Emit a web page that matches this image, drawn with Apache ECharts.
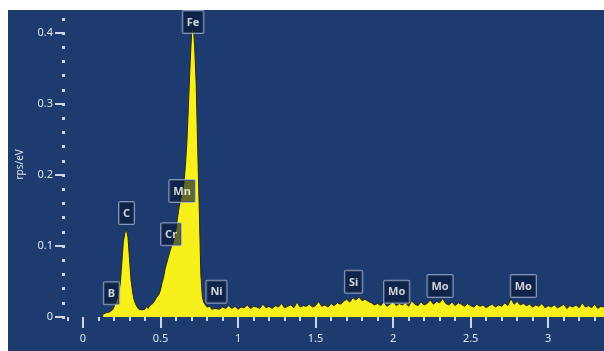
<!DOCTYPE html>
<html>
<head>
<meta charset="utf-8">
<script src="https://cdn.jsdelivr.net/npm/echarts@6/dist/echarts.min.js"></script>
<style>
  html, body { margin: 0; padding: 0; background: #ffffff; }
  #chart { width: 604px; height: 351px; }
</style>
</head>
<body>
<div id="chart"></div>
<script>
// EDS spectrum: counts per eV against energy (keV)

// Low-energy part, sampled every 0.01 keV from 0.13 keV
const lowStart = 0.13;
const lowStep = 0.01;
const lowCounts = [
  0.004, 0.005, 0.006, 0.006, 0.007, 0.008, 0.010, 0.014, 0.020, 0.026,
  0.034, 0.046, 0.075, 0.105, 0.118, 0.124, 0.112, 0.082, 0.052, 0.035,
  0.024, 0.018, 0.014, 0.011, 0.013, 0.010, 0.012, 0.011, 0.015, 0.012,
  0.016, 0.014, 0.019, 0.022, 0.026, 0.028, 0.032, 0.038, 0.048, 0.056,
  0.068, 0.076, 0.084, 0.092, 0.099, 0.104, 0.112, 0.124, 0.140, 0.155,
  0.166, 0.176, 0.186, 0.212, 0.246, 0.298, 0.352, 0.398, 0.414, 0.382,
  0.328, 0.236, 0.150, 0.060, 0.028, 0.020, 0.017, 0.014, 0.012, 0.015,
  0.011, 0.013, 0.012
];

// Background part, sampled every 0.02 keV from 0.86 keV
const highStart = 0.86;
const highStep = 0.02;
const highCounts = [
  0.013, 0.011, 0.014, 0.012, 0.016, 0.012, 0.015, 0.011, 0.014, 0.013,
  0.017, 0.012, 0.015, 0.014, 0.012, 0.018, 0.013, 0.015, 0.012, 0.016,
  0.014, 0.019, 0.013, 0.015, 0.017, 0.013, 0.021, 0.014, 0.016, 0.015,
  0.018, 0.014, 0.016, 0.022, 0.015, 0.017, 0.014, 0.019, 0.016, 0.020,
  0.018, 0.022, 0.025, 0.021, 0.027, 0.024, 0.028, 0.023, 0.025, 0.022,
  0.020, 0.017, 0.019, 0.016, 0.021, 0.015, 0.018, 0.022, 0.016, 0.019,
  0.017, 0.020, 0.015, 0.023, 0.018, 0.016, 0.021, 0.017, 0.019, 0.024,
  0.018, 0.022, 0.020, 0.026, 0.019, 0.017, 0.021, 0.016, 0.020, 0.018,
  0.015, 0.019, 0.016, 0.014, 0.018, 0.015, 0.017, 0.013, 0.016, 0.018,
  0.014, 0.017, 0.015, 0.020, 0.016, 0.026, 0.018, 0.022, 0.017, 0.019,
  0.016, 0.018, 0.014, 0.017, 0.015, 0.019, 0.013, 0.016, 0.014, 0.017,
  0.013, 0.015, 0.018, 0.012, 0.016, 0.014, 0.017, 0.013, 0.020, 0.014,
  0.016, 0.013, 0.018, 0.012, 0.015, 0.014
];

// Element line markers: name, energy (keV), height of the box's lower edge (rps/eV)
const lineNames    = ['B', 'C', 'Cr', 'Mn', 'Fe', 'Ni', 'Si', 'Mo', 'Mo', 'Mo'];
const lineEnergies = [0.184, 0.281, 0.568, 0.639, 0.71, 0.861, 1.745, 2.023, 2.303, 2.84];
const lineHeights  = [0.018, 0.131, 0.101, 0.162, 0.400, 0.020, 0.034, 0.020, 0.028, 0.028];

// Axis ticks: labelled major ticks, plus minor ticks every 0.1 keV / 0.02 rps/eV
const xMajorTicks = [0, 0.5, 1, 1.5, 2, 2.5, 3];
const yMajorTicks = [0, 0.1, 0.2, 0.3, 0.4];
const xMinorStep = 0.1, xMinorFrom = -0.1, xMinorTo = 3.3;
const yMinorStep = 0.02, yMinorFrom = 0, yMinorTo = 0.42;

const X_MIN = -0.116, X_MAX = 3.36;
const Y_MIN = 0, Y_MAX = 0.43;

function steps(from, to, step) {
  const out = [];
  const n = Math.round((to - from) / step);
  for (let i = 0; i <= n; i++) out.push(+(from + i * step).toFixed(4));
  return out;
}
function toPairs(start, step, counts) {
  return counts.map((c, i) => [+(start + i * step).toFixed(3), c]);
}
const spectrum = toPairs(lowStart, lowStep, lowCounts).concat(toPairs(highStart, highStep, highCounts));
const markers = lineNames.map((n, i) => ({ name: n, value: [lineEnergies[i], lineHeights[i]] }));
const xMinorTicks = steps(xMinorFrom, xMinorTo, xMinorStep);
const yMinorTicks = steps(yMinorFrom, yMinorTo, yMinorStep);

const FONT = 'Noto Sans';
const TICK = '#cdd5e4';
const TEXT = '#dfe4ee';
const fmt = v => String(+(+v).toFixed(2));
const noLine = { show: false, onZero: false };

const chart = echarts.init(document.getElementById('chart'), null, { renderer: 'canvas' });
chart.setOption({
  backgroundColor: '#ffffff',
  animation: false,
  graphic: [{
    type: 'rect', z: -10, silent: true,
    shape: { x: 8, y: 10, width: 596, height: 341 },
    style: { fill: '#1d3b6f' }
  }],
  grid: { left: 65, right: 0, top: 11.7, bottom: 34, containLabel: false },
  xAxis: [
    {
      type: 'value', position: 'bottom', min: X_MIN, max: X_MAX,
      axisLine: noLine,
      axisTick: { show: true, length: 4, customValues: xMinorTicks, lineStyle: { color: TICK, width: 2 } },
      axisLabel: { show: false },
      splitLine: { show: false }
    },
    {
      type: 'value', position: 'bottom', offset: 0, min: X_MIN, max: X_MAX,
      axisLine: noLine,
      axisTick: { show: true, length: 11, customValues: xMajorTicks, lineStyle: { color: TICK, width: 2 } },
      axisLabel: {
        show: true, customValues: xMajorTicks, margin: 16,
        color: TEXT, fontSize: 11, fontFamily: FONT, formatter: fmt
      },
      splitLine: { show: false }
    }
  ],
  yAxis: [
    {
      type: 'value', position: 'left', offset: 0, min: Y_MIN, max: Y_MAX,
      axisLine: noLine,
      axisTick: { show: true, length: 3, customValues: yMinorTicks, lineStyle: { color: TICK, width: 3 } },
      axisLabel: { show: false },
      splitLine: { show: false },
      name: 'rps/eV', nameLocation: 'middle', nameGap: 40, nameRotate: 90,
      nameTextStyle: { color: TEXT, fontSize: 10, fontFamily: FONT }
    },
    {
      type: 'value', position: 'left', offset: 0, min: Y_MIN, max: Y_MAX,
      axisLine: noLine,
      axisTick: { show: true, length: 10, customValues: yMajorTicks, lineStyle: { color: TICK, width: 2 } },
      axisLabel: {
        show: true, customValues: yMajorTicks, margin: 12,
        color: TEXT, fontSize: 11, fontFamily: FONT, formatter: fmt
      },
      splitLine: { show: false }
    }
  ],
  series: [
    {
      type: 'line', xAxisIndex: 0, yAxisIndex: 0,
      data: spectrum, symbol: 'none', smooth: false,
      lineStyle: { color: '#2a2a12', width: 1 },
      areaStyle: { color: '#f7f01a', opacity: 1 },
      z: 2
    },
    {
      type: 'scatter', xAxisIndex: 0, yAxisIndex: 0,
      data: markers, symbolSize: 0, z: 5,
      label: {
        show: true, position: 'top', distance: 0,
        formatter: p => p.name,
        color: '#ffffff', fontSize: 11, fontWeight: 'bold', fontFamily: FONT,
        lineHeight: 13,
        backgroundColor: 'rgba(8,22,52,0.78)',
        borderColor: '#9fb0cf', borderWidth: 1, borderRadius: 1,
        padding: [5, 4, 4, 4]
      }
    }
  ]
});
</script>
</body>
</html>
